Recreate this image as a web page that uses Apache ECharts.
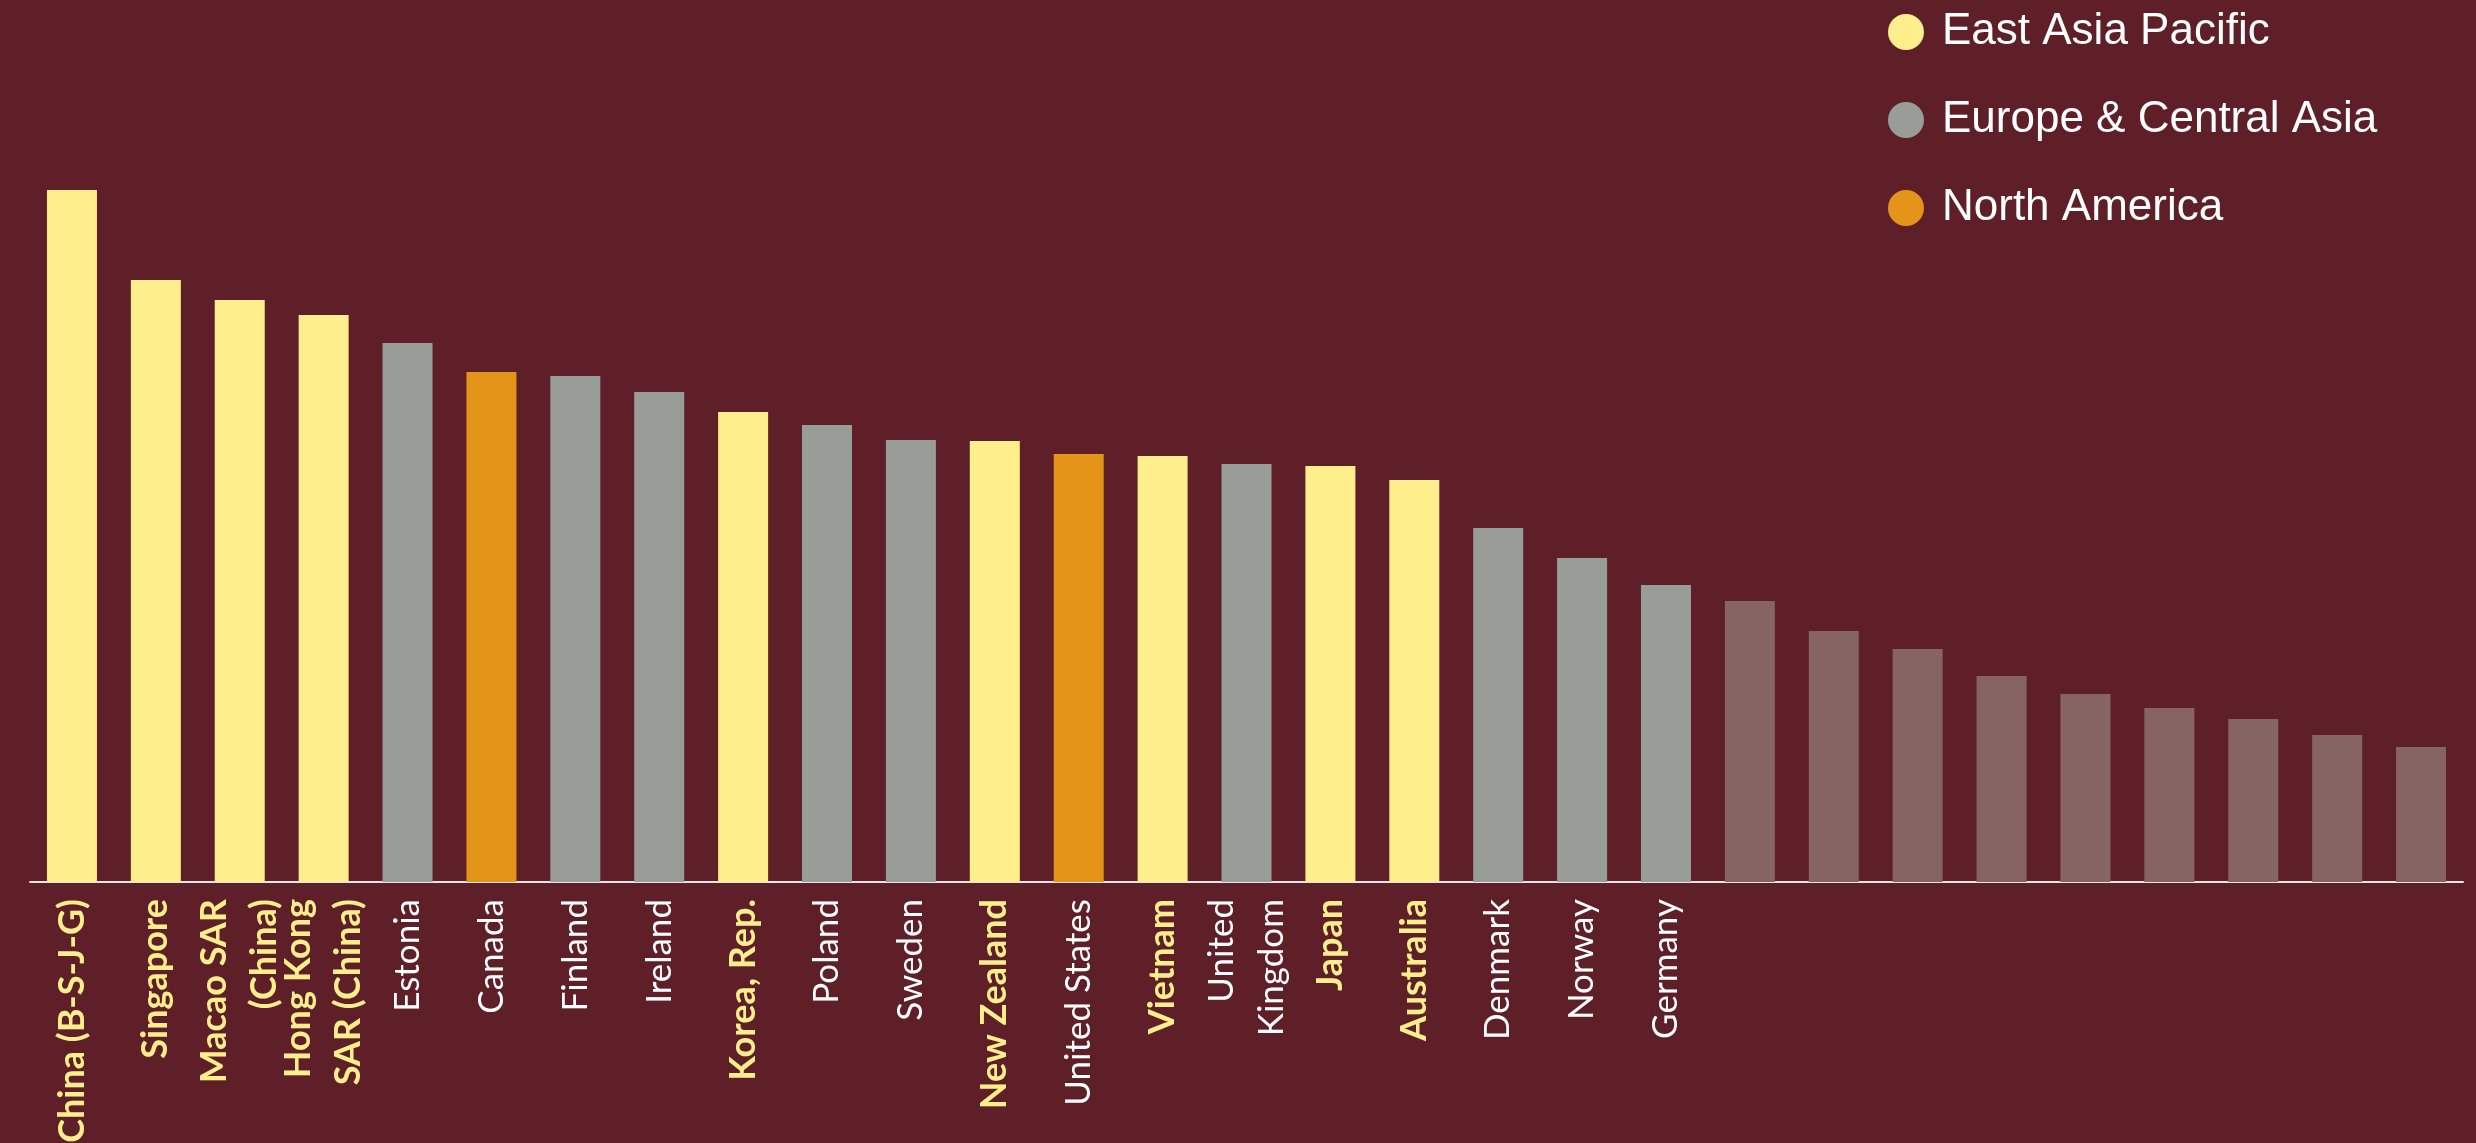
<!DOCTYPE html>
<html>
<head>
<meta charset="utf-8">
<script src="https://cdn.jsdelivr.net/npm/echarts@6/dist/echarts.min.js"></script>
<style>
  html, body { margin: 0; padding: 0; background: #5E1F28; }
  #chart { width: 2476px; height: 1143px; }
</style>
</head>
<body>
<div id="chart"></div>
<script>
// ---- data ----
const categories = [
  'China (B-S-J-G)', 'Singapore', 'Macao SAR\n(China)', 'Hong Kong\nSAR (China)', 'Estonia',
  'Canada', 'Finland', 'Ireland', 'Korea, Rep.', 'Poland',
  'Sweden', 'New Zealand', 'United States', 'Vietnam', 'United\nKingdom',
  'Japan', 'Australia', 'Denmark', 'Norway', 'Germany',
  '', '', '', '', '', '', '', '', ''
];
const regions = [
  'East Asia Pacific', 'East Asia Pacific', 'East Asia Pacific', 'East Asia Pacific', 'Europe & Central Asia',
  'North America', 'Europe & Central Asia', 'Europe & Central Asia', 'East Asia Pacific', 'Europe & Central Asia',
  'Europe & Central Asia', 'East Asia Pacific', 'North America', 'East Asia Pacific', 'Europe & Central Asia',
  'East Asia Pacific', 'East Asia Pacific', 'Europe & Central Asia', 'Europe & Central Asia', 'Europe & Central Asia',
  'Other', 'Other', 'Other', 'Other', 'Other', 'Other', 'Other', 'Other', 'Other'
];
const values = [
  69.2, 60.2, 58.2, 56.7, 53.9,
  51.0, 50.6, 49.0, 47.0, 45.7,
  44.2, 44.1, 42.8, 42.6, 41.8,
  41.6, 40.2, 35.4, 32.4, 29.7,
  28.1, 25.1, 23.3, 20.6, 18.8, 17.4, 16.3, 14.7, 13.5
];
const legendNames = ['East Asia Pacific', 'Europe & Central Asia', 'North America'];
const regionColors = {
  'East Asia Pacific': '#FFEE8C',
  'Europe & Central Asia': '#989D97',
  'North America': '#E39419',
  'Other': '#866463'
};

// ---- chart ----
const chart = echarts.init(document.getElementById('chart'), null, { renderer: 'canvas' });

const xData = categories.map((c, i) => {
  const eap = regions[i] === 'East Asia Pacific';
  return {
    value: c,
    textStyle: eap
      ? { color: '#FFEE8C', fontWeight: 'bold', fontSize: 36 }
      : { color: '#FFFFFF', fontWeight: 'normal', fontSize: 35 }
  };
});

const seriesNames = legendNames.concat(['Other']);
const series = seriesNames.map(name => ({
  name: name,
  type: 'bar',
  barWidth: 50,
  barGap: '-100%',
  itemStyle: { color: regionColors[name] },
  data: values.map((v, i) => regions[i] === name ? v : null),
  silent: true
}));

chart.setOption({
  backgroundColor: '#5E1F28',
  animation: false,
  grid: { left: 30, right: 13, top: 82, bottom: 261, containLabel: false, outerBoundsMode: 'none' },
  legend: {
    data: legendNames,
    orient: 'vertical',
    left: 1883,
    top: 2,
    itemWidth: 62,
    itemHeight: 36,
    itemGap: 38,
    icon: 'circle',
    selectedMode: false,
    textStyle: { color: '#FFFFFF', fontSize: 44, fontFamily: '"Liberation Sans", Arial, sans-serif', lineHeight: 50 }
  },
  xAxis: {
    type: 'category',
    data: xData,
    axisTick: { show: false },
    axisLine: { show: true, lineStyle: { color: '#E6E6E6', width: 2 } },
    axisLabel: {
      interval: 0,
      rotate: 90,
      margin: 17,
      fontFamily: 'Lato, "Open Sans", sans-serif',
      lineHeight: 50
    }
  },
  yAxis: {
    type: 'value',
    min: 0,
    max: 80,
    show: false,
    splitLine: { show: false }
  },
  series: series
});
</script>
</body>
</html>
